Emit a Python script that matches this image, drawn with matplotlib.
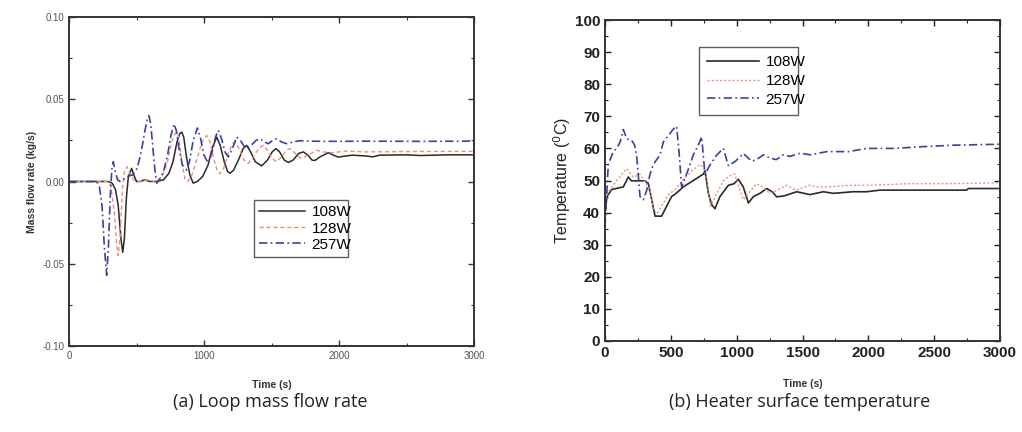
import matplotlib
matplotlib.use("Agg")
import matplotlib.pyplot as plt
from matplotlib.ticker import MultipleLocator

# ---------------- data: (a) loop mass flow rate ----------------
t_m108 = [0, 290, 320, 345, 365, 385, 398, 410, 425, 440, 464, 480, 500, 530, 560, 600, 650, 700, 740, 770, 800, 820, 835, 850, 870, 895,
          920, 950, 990, 1030, 1060, 1094, 1120, 1150, 1175, 1193, 1220, 1260, 1290, 1316, 1345, 1380, 1427, 1470, 1505, 1533, 1560, 1595,
          1625, 1660, 1700, 1736, 1770, 1800, 1822, 1860, 1921, 1960, 1995, 2050, 2100, 2200, 2250, 2300, 2500, 2600, 2800, 3000]
m108 = [0.0, 0.0, -0.001, -0.005, -0.015, -0.035, -0.043, -0.035, -0.010, 0.003, 0.008, 0.004, 0.0, 0.0, 0.001, 0.0, 0.0, 0.001, 0.005, 0.012, 0.024, 0.029, 0.030, 0.027, 0.015, 0.004,
        -0.001, 0.0, 0.003, 0.010, 0.020, 0.027, 0.022, 0.012, 0.006, 0.005, 0.007, 0.014, 0.020, 0.022, 0.018, 0.012, 0.0095, 0.013, 0.018, 0.020, 0.018, 0.013,
        0.0116, 0.013, 0.017, 0.018, 0.016, 0.013, 0.0128, 0.015, 0.0175, 0.016, 0.0148, 0.0155, 0.016, 0.0155, 0.015, 0.016, 0.0162, 0.0158, 0.0162, 0.0162]

t_m128 = [0, 280, 310, 335, 355, 365, 380, 395, 410, 430, 450, 480, 520, 580, 640, 690, 730, 760, 785, 800, 815, 835, 860, 880, 910, 950,
          985, 1020, 1045, 1075, 1100, 1118, 1145, 1180, 1210, 1230, 1260, 1295, 1328, 1365, 1405, 1440, 1470, 1505, 1538, 1575, 1610, 1637,
          1665, 1700, 1723, 1770, 1835, 1880, 1950, 2050, 2200, 2500, 2800, 3000]
m128 = [0.0, 0.0, -0.003, -0.018, -0.040, -0.045, -0.032, -0.005, 0.006, 0.009, 0.005, 0.001, 0.0, 0.001, 0.0, 0.003, 0.012, 0.024, 0.029, 0.030, 0.026, 0.012, 0.001, 0.0, 0.004, 0.014,
        0.024, 0.028, 0.024, 0.013, 0.006, 0.0047, 0.008, 0.017, 0.023, 0.024, 0.020, 0.013, 0.011, 0.015, 0.020, 0.022, 0.019, 0.014, 0.012, 0.015, 0.019, 0.020,
        0.018, 0.015, 0.014, 0.016, 0.019, 0.018, 0.0175, 0.0185, 0.018, 0.0182, 0.0183, 0.0183]

t_m257 = [0, 205, 225, 245, 262, 279, 292, 305, 318, 328, 340, 360, 378, 400, 430, 470, 505, 535, 560, 580, 593, 605, 620, 635, 650, 670,
          700, 730, 755, 778, 795, 815, 840, 872, 895, 920, 951, 975, 1000, 1032, 1060, 1085, 1106, 1130, 1155, 1180, 1210, 1242, 1270, 1300,
          1316, 1350, 1385, 1415, 1450, 1476, 1510, 1538, 1575, 1612, 1660, 1711, 1800, 1900, 2200, 2600, 2950, 3000]
m257 = [0.0, 0.0, -0.003, -0.015, -0.040, -0.057, -0.040, -0.010, 0.008, 0.012, 0.007, 0.001, 0.0, 0.001, 0.003, 0.004, 0.008, 0.018, 0.030, 0.038, 0.040, 0.035, 0.022, 0.008, -0.001, 0.001,
        0.006, 0.016, 0.028, 0.035, 0.031, 0.020, 0.010, 0.007, 0.013, 0.025, 0.0325, 0.026, 0.016, 0.011, 0.018, 0.027, 0.031, 0.026, 0.018, 0.015, 0.020, 0.027, 0.025, 0.021,
        0.020, 0.022, 0.025, 0.026, 0.024, 0.023, 0.025, 0.026, 0.024, 0.023, 0.024, 0.0248, 0.0245, 0.0244, 0.0245, 0.0244, 0.0245, 0.025]

# ---------------- data: (b) heater surface temperature ----------------
t_T108 = [0, 15, 51, 139, 177, 200, 304, 329, 350, 380, 430, 468, 506, 540, 595, 671, 747, 760, 785, 810, 835, 873, 937, 980, 1013, 1050, 1089,
          1127, 1177, 1228, 1270, 1304, 1360, 1456, 1557, 1658, 1734, 1886, 1987, 2089, 2400, 2746, 2760, 3000]
T108 = [40.0, 45.0, 47.2, 48.0, 51.1, 49.9, 49.9, 49.0, 45.0, 38.9, 38.9, 42.0, 45.0, 46.0, 48.0, 50.0, 52.0, 53.0, 46.0, 42.5, 41.2, 45.0, 48.5, 49.0, 50.4, 48.0, 43.0,
        45.0, 46.0, 47.5, 46.5, 44.9, 45.2, 46.5, 45.6, 46.5, 46.0, 46.5, 46.5, 47.0, 47.0, 47.0, 47.5, 47.5]

t_T128 = [0, 20, 89, 165, 215, 266, 300, 342, 367, 395, 430, 480, 540, 600, 660, 720, 750, 775, 800, 850, 900, 950, 985, 1010, 1050,
          1100, 1150, 1200, 1250, 1310, 1380, 1450, 1550, 1620, 1700, 1850, 2000, 2300, 2600, 3000]
T128 = [43.0, 46.0, 50.0, 53.7, 51.0, 52.0, 50.0, 47.0, 41.0, 39.7, 42.0, 45.5, 47.5, 50.5, 53.0, 55.0, 54.0, 50.0, 42.0, 46.0, 50.0, 51.5, 52.0, 49.0, 44.0,
        46.5, 49.0, 48.0, 46.0, 47.0, 48.5, 47.0, 48.5, 48.0, 48.0, 48.5, 48.5, 49.0, 49.0, 49.3]

t_T257 = [0, 25, 63, 89, 115, 139, 165, 203, 225, 240, 266, 291, 317, 342, 367, 418, 443, 481, 519, 544, 560, 582, 620, 671, 709, 734, 759,
          800, 850, 899, 937, 990, 1051, 1114, 1150, 1203, 1253, 1300, 1354, 1405, 1481, 1560, 1684, 1850, 1987, 2200, 2392, 2646, 3000]
T257 = [35.5, 55.0, 59.0, 60.0, 62.0, 65.9, 63.0, 62.5, 61.0, 58.0, 45.0, 44.0, 47.0, 52.0, 55.0, 58.0, 62.0, 64.0, 66.0, 66.9, 60.0, 48.0, 52.0, 58.0, 61.0, 63.6, 52.0,
        55.0, 58.0, 60.0, 54.6, 56.0, 58.4, 56.0, 56.5, 58.0, 57.0, 56.5, 58.0, 57.5, 58.5, 58.0, 59.0, 59.0, 60.0, 60.0, 60.5, 61.0, 61.3]

labels = ["108W", "128W", "257W"]
captions = ["(a) Loop mass flow rate", "(b) Heater surface temperature"]

# ---------------- styling ----------------
plt.rcParams['font.family'] = ['Liberation Sans', 'DejaVu Sans']
c_black = '#2a2a2a'
c_red = '#e9927a'
c_blue = '#3f3f9e'

fig = plt.figure(figsize=(10.22, 4.32), dpi=100)

# (a)
ax1 = fig.add_axes([69/1022, (432-346)/432, 405/1022, 329/432])
ax1.plot(t_m108, m108, color=c_black, lw=1.1, ls='-', label=labels[0])
ax1.plot(t_m128, m128, color=c_red, lw=1.0, ls=(0, (3, 2)), label=labels[1])
ax1.plot(t_m257, m257, color=c_blue, lw=1.2, ls=(0, (5, 2, 1, 2)), label=labels[2])
ax1.set_xlim(0, 3000)
ax1.set_ylim(-0.10, 0.10)
ax1.xaxis.set_major_locator(MultipleLocator(1000))
ax1.xaxis.set_minor_locator(MultipleLocator(500))
ax1.yaxis.set_minor_locator(MultipleLocator(0.025))
ax1.set_yticks([-0.10, -0.05, 0.0, 0.05, 0.10])
ax1.set_yticklabels(["-0.10", "-0.05", "0.00", "0.05", "0.10"])
ax1.tick_params(which='both', direction='in', top=True, right=True, labelsize=7, labelcolor='#555555', colors='#333333')
ax1.tick_params(which='major', length=4, width=1)
ax1.tick_params(which='minor', length=2, width=0.8)
for s in ax1.spines.values():
    s.set_linewidth(1.4)
    s.set_color('#333333')
ax1.set_ylabel("Mass flow rate (kg/s)", fontsize=7.5, fontweight='bold', color='#333333', labelpad=4)
ax1.set_xlabel("Time (s)", fontsize=7.5, fontweight='bold', color='#333333', labelpad=14)
leg1 = ax1.legend(loc='lower left', bbox_to_anchor=(0.457, 0.27, 0.232, 0.2), mode='expand',
                  fontsize=11, frameon=True, fancybox=False, edgecolor='#333333',
                  handlelength=3.0, borderpad=0.35, labelspacing=0.15, handletextpad=0.4, borderaxespad=0)
leg1.get_frame().set_linewidth(1.0)

# (b)
ax2 = fig.add_axes([605/1022, (432-341)/432, 395/1022, 321/432])
ax2.plot(t_T108, T108, color=c_black, lw=1.2, ls='-', label=labels[0])
ax2.plot(t_T128, T128, color=c_red, lw=1.0, ls=(0, (1.5, 1.5)), label=labels[1])
ax2.plot(t_T257, T257, color=c_blue, lw=1.2, ls=(0, (5, 2, 1, 2)), label=labels[2])
ax2.set_xlim(0, 3000)
ax2.set_ylim(0, 100)
ax2.xaxis.set_major_locator(MultipleLocator(500))
ax2.xaxis.set_minor_locator(MultipleLocator(250))
ax2.yaxis.set_major_locator(MultipleLocator(10))
ax2.yaxis.set_minor_locator(MultipleLocator(5))
ax2.tick_params(which='both', direction='in', top=True, right=True, labelsize=11, colors='#222222')
ax2.tick_params(which='major', length=4, width=1)
ax2.tick_params(which='minor', length=2, width=0.8)
for lab in ax2.get_xticklabels() + ax2.get_yticklabels():
    lab.set_fontweight('bold')
for s in ax2.spines.values():
    s.set_linewidth(1.4)
    s.set_color('#333333')
ax2.set_ylabel("Temperature ($^0$C)", fontsize=11.5, color='#222222', labelpad=1)
ax2.set_xlabel("Time (s)", fontsize=7.5, fontweight='bold', color='#333333', labelpad=13.5)
leg2 = ax2.legend(loc='lower left', bbox_to_anchor=(0.238, 0.704, 0.251, 0.226), mode='expand',
                  fontsize=11, frameon=True, fancybox=False, edgecolor='#333333',
                  handlelength=3.4, borderpad=0.55, labelspacing=0.3, handletextpad=0.4, borderaxespad=0)
leg2.get_frame().set_linewidth(1.0)

# captions
fig.text(270/1022, 1 - 402/432, captions[0], ha='center', va='center', fontsize=13, family='Open Sans', color='#222222')
fig.text(800/1022, 1 - 402/432, captions[1], ha='center', va='center', fontsize=13, family='Open Sans', color='#222222')

fig.savefig("out.png", dpi=100)
